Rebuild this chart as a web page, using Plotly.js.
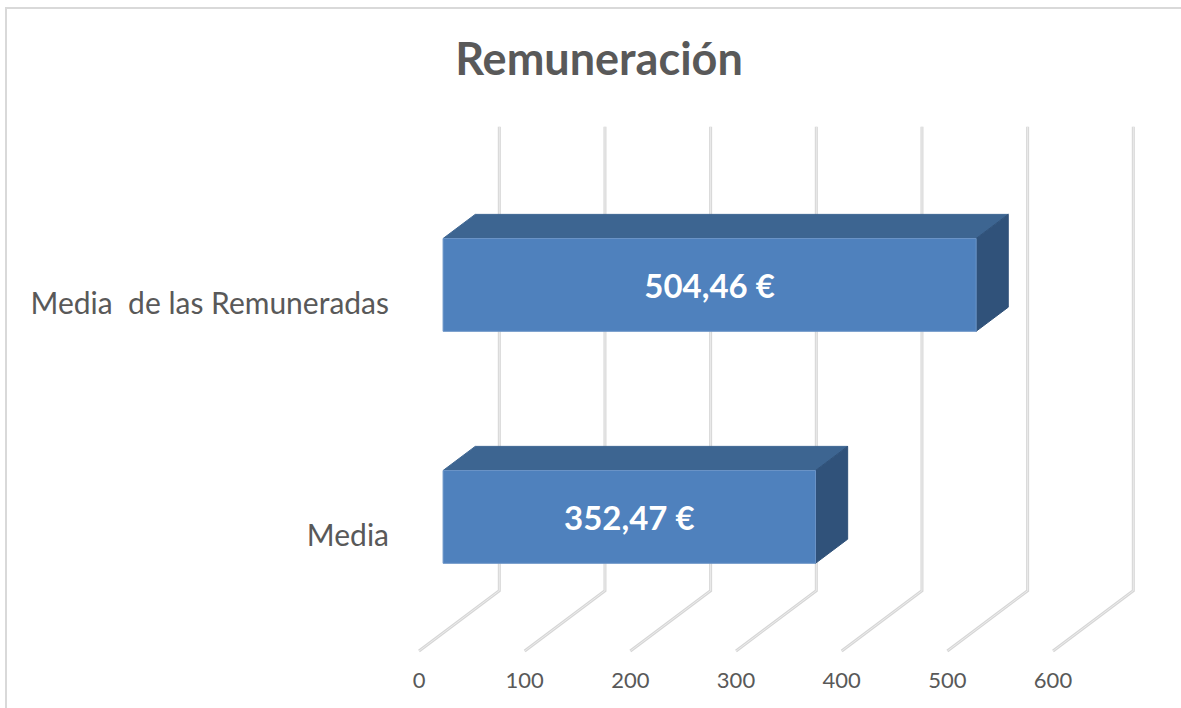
<!DOCTYPE html>
<html>
<head>
<meta charset="utf-8">
<script src="https://cdn.plot.ly/plotly-3.0.1.min.js"></script>
<style>
  html, body { margin: 0; padding: 0; background: #fff; }
  #chart { width: 1181px; height: 708px; }
</style>
</head>
<body>
<div id="chart"></div>
<script>
// ---- data ----
const categories = ['Media', 'Media \u00a0de las Remuneradas'];
const values = [352.47, 504.46];
const tickValues = [0, 100, 200, 300, 400, 500, 600];
const tickLabels = ['0', '100', '200', '300', '400', '500', '600'];
const chartTitle = 'Remuneración';

// ---- pseudo-3D projection settings ----
const DX = 76;      // horizontal shift of full depth (value units)
const DY = 0.26;    // vertical shift of full depth (category units)
const FLOOR = -0.5, TOP = 1.5;
const D0 = 0.3, D1 = 0.7;   // bar depth span
const HALF = 0.2;           // half bar thickness
const LABEL_DY = -0.02;     // small visual nudge of data labels

function P(v, c, d) { return [v + d * DX, c + d * DY]; }

const traces = [];

// gridlines / walls
const gx = [], gy = [];
tickValues.forEach(v => {
  const a = P(v, FLOOR, 0), b = P(v, FLOOR, 1), t = P(v, TOP, 1);
  gx.push(a[0], b[0], t[0], null);
  gy.push(a[1], b[1], t[1], null);
});
traces.push({type: 'scatter', mode: 'lines', x: gx, y: gy,
  line: {color: '#d6d6d6', width: 3}, hoverinfo: 'skip', showlegend: false});
traces.push({type: 'scatter', mode: 'lines', x: gx, y: gy,
  line: {color: '#ececec', width: 1}, hoverinfo: 'skip', showlegend: false});

function poly(pts, color, line) {
  return {type: 'scatter', mode: 'lines', fill: 'toself', fillcolor: color,
    x: pts.map(p => p[0]).concat([pts[0][0]]),
    y: pts.map(p => p[1]).concat([pts[0][1]]),
    line: {color: line || color, width: 1}, hoverinfo: 'skip', showlegend: false};
}

values.forEach((v, i) => {
  const c = i;
  // top face
  traces.push(poly([P(0, c + HALF, D0), P(v, c + HALF, D0), P(v, c + HALF, D1), P(0, c + HALF, D1)], '#3D6591'));
  // side face
  traces.push(poly([P(v, c - HALF, D0), P(v, c + HALF, D0), P(v, c + HALF, D1), P(v, c - HALF, D1)], '#30527A'));
  // front face
  traces.push(poly([P(0, c - HALF, D0), P(v, c - HALF, D0), P(v, c + HALF, D0), P(0, c + HALF, D0)], '#4F81BD', '#6A93C6'));
});

// data labels
traces.push({type: 'scatter', mode: 'text',
  x: values.map(v => P(v / 2, 0, D0)[0]),
  y: values.map((v, i) => P(0, i, D0)[1] + LABEL_DY),
  text: values.map(v => v.toFixed(2).replace('.', ',') + ' €'),
  textposition: 'middle center',
  textfont: {family: 'Lato, Carlito, sans-serif', size: 33, color: '#ffffff', weight: 'bold'},
  hoverinfo: 'skip', showlegend: false});

// ---- layout ----
const L = 400, R = 31, T = 110, B = 48;
const W = 1181, H = 708;
const pw = W - L - R, ph = H - T - B;
const px = x => (x - L) / pw;
const py = y => (H - B - y) / ph;

const layout = {
  width: W, height: H,
  margin: {l: L, r: R, t: T, b: B, pad: 0},
  paper_bgcolor: '#ffffff', plot_bgcolor: 'rgba(0,0,0,0)',
  showlegend: false,
  title: {text: '<b>' + chartTitle + '</b>', x: 599 / W, xanchor: 'center',
    y: 1 - 59 / H, yanchor: 'middle', yref: 'container',
    font: {family: 'Lato, Carlito, sans-serif', size: 45, color: '#595959'}},
  xaxis: {range: [-17.98, 691.8], tickvals: tickValues, ticktext: tickLabels,
    showgrid: false, zeroline: false, showline: false, ticks: '',
    ticklabelstandoff: 5,
    tickfont: {family: 'Lato, Carlito, sans-serif', size: 22, color: '#595959'},
    fixedrange: true},
  yaxis: {range: [-0.5388, 1.8319], tickvals: categories.map((c, i) => i), ticktext: categories,
    showgrid: false, zeroline: false, showline: false, ticks: '',
    ticklabelstandoff: 10,
    tickfont: {family: 'Lato, Carlito, sans-serif', size: 30, color: '#595959'},
    fixedrange: true},
  shapes: [{type: 'rect', xref: 'paper', yref: 'paper',
    x0: px(6), x1: px(1190), y0: py(716), y1: py(8),
    line: {color: '#d9d9d9', width: 2}, fillcolor: 'rgba(0,0,0,0)', layer: 'below'}]
};

Plotly.newPlot('chart', traces, layout, {displayModeBar: false, staticPlot: true});
</script>
</body>
</html>
